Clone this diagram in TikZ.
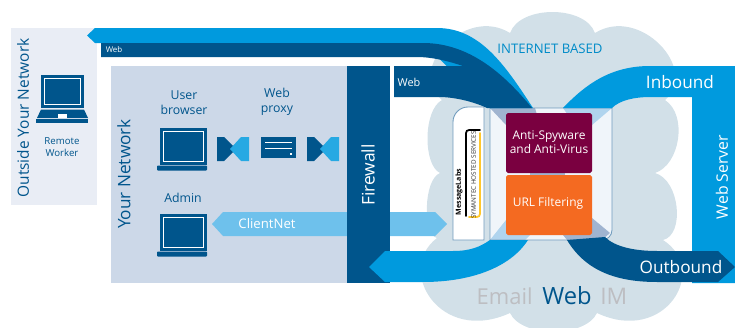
\documentclass[tikz,border=0pt]{standalone}
\usepackage{fontspec}
\setmainfont{Open Sans}
\usepackage{tikz}
\definecolor{netblue}{HTML}{00558C}
\definecolor{pipeblue}{HTML}{009ADE}
\definecolor{skyblue}{HTML}{6EC1EC}
\definecolor{cloudgray}{HTML}{D2E0E8}
\definecolor{outsidebg}{HTML}{E9EDF5}
\definecolor{insidebg}{HTML}{CCD8E8}
\definecolor{boxbg}{HTML}{F0F5FA}
\definecolor{boxline}{HTML}{6F9BBD}
\definecolor{funneldark}{HTML}{A0B4D0}
\definecolor{funnellight}{HTML}{B0D4EE}
\definecolor{spyware}{HTML}{7A0040}
\definecolor{urlorange}{HTML}{F46A21}
\definecolor{markgray}{HTML}{BDBEC2}
\definecolor{logoyellow}{HTML}{FFC72C}
\newcommand{\fsz}[1]{\fontsize{#1}{1.2\dimexpr#1pt\relax}\selectfont}
\newcommand{\notebook}[2]{
	\begin{scope}[shift={(#1,#2)}]
		\fill [netblue] (0,0) rectangle (47,37);
		\draw [white, line width=.6pt] (3.5,3.5) rectangle (43.5,33.5);
		\fill [netblue, rounded corners=.5] (-3,37.5) rectangle (47,42.5);
	\end{scope}
}
\newcommand{\gateicon}[2]{
	\begin{scope}[shift={(#1,#2)}]
		\fill [netblue] (0,0)--(7,0)--(19,12)--(7,24)--(0,24)--cycle;
		\fill [pipeblue!85!white] (32,0)--(24,0)--(13,12)--(24,24)--(32,24)--cycle;
	\end{scope}
}
\tikzset{
	netlabel/.style={text=netblue, align=center, font=\fsz{7}},
	whitetext/.style={text=white, align=center},
	inset/.style={anchor=center, inner sep=0pt}
}
\begin{document}
\begin{tikzpicture}[x=0.02cm, y=-0.02cm]
	\useasboundingbox (0,0) rectangle (735,328);
	\begin{scope}
		\clip (0,0) rectangle (735,328);
		\fill [cloudgray] (510,33) .. controls (520,5) and (585,5) .. (595,33)
			.. controls (640,5) and (700,70) .. (665,100)
			.. controls (688,115) and (680,165) .. (655,173)
			.. controls (680,180) and (685,235) .. (663,240)
			.. controls (710,270) and (665,345) .. (597,313)
			.. controls (585,338) and (522,338) .. (510,313)
			.. controls (440,345) and (395,270) .. (437,238)
			.. controls (423,235) and (423,180) .. (440,173)
			.. controls (423,165) and (423,110) .. (442,100)
			.. controls (405,70) and (465,5) .. (510,33) -- cycle;
	\end{scope}
	\fill [outsidebg] (11,28) rectangle (97,205);
	\fill [insidebg] (111,66) rectangle (348,283);
	\fill [skyblue] (212,224)--(223,212)--(435,212)--(447,224)--(435,236)--(223,236)--cycle;
	\fill [netblue] (347,66) rectangle (390,283);
	\fill [boxbg] (490,108)--(612,108)--(612,230) arc (0:90:10) --(490,240)--cycle;
	\fill [funneldark] (490,108)--(535,108)--(540,125)--(506,125)--cycle;
	\fill [funnellight] (563,108)--(612,108)--(592,125)--(575,125)--cycle;
	\fill [funnellight] (490,240)--(506,220)--(530,235)--(525,240)--cycle;
	\fill [funneldark] (563,235)--(592,218)--(610,233)--(602,240)--(567,240)--cycle;
	\fill [funneldark] (530,172) rectangle (565,176);
	\draw [boxline, line width=.5pt] (490,108)--(612,108)--(612,230) arc (0:90:10) --(490,240)--cycle;
	\draw [boxline, fill=white, line width=.5pt] (484,240)--(453,240)--(453,122) arc (180:270:15) --(484,107)--cycle;
	\fill [pipeblue] (87,35.5)--(95,28)--(437,28) .. controls (480,28) and (505,65) .. (533,108)--(490,108)--(423,43)--(95,43)--cycle;
	\fill [netblue] (101,43)--(423,43) .. controls (470,43) and (505,75) .. (532,108)--(487,108)
		.. controls (470,100) and (450,97) .. (440,97)--(394,97)--(394,66)--(463,66)
		.. controls (445,60) and (430,57) .. (417,57)--(101,57)--cycle;
	\fill [pipeblue] (563,108) .. controls (585,85) and (610,66) .. (650,66)--(735,66)--(735,283)--(692,283)--(692,97)--(650,97)
		.. controls (635,97) and (620,100) .. (612,108)--cycle;
	\fill [pipeblue] (369,267)--(385,251)--(453,251) .. controls (470,251) and (480,247) .. (490,240)--(528,240)
		.. controls (510,268) and (470,282) .. (423,282)--(385,282)--cycle;
	\fill [netblue] (605,237) .. controls (615,247) and (635,251) .. (657,251)--(718,251)--(735,267)--(718,282)--(657,282)
		.. controls (615,282) and (585,270) .. (567,240)--cycle;
	\fill [spyware, rounded corners=1] (506,113) rectangle (592,173);
	\fill [urlorange, rounded corners=1] (506,175) rectangle (592,235);
	% logo
	\draw [black, line width=1pt, line cap=round] (480,130)--(469,130) arc (270:180:3) --(466,216);
	\draw [logoyellow, line width=1pt, line cap=round] (480,133)--(480,214) arc (0:90:3) --(469,217);
	\node (logotop) [inset, rotate=90, font=\fsz{4}\bfseries, text=black] at (459,192) {MessageLabs};
	\node (logobot) [inset, rotate=90, font=\fsz{3.6}, text=black!80] at (473.5,175) {SYMANTEC HOSTED SERVICES};
	% remote laptop
	\fill [netblue] (41,75) rectangle (84,107.5);
	\draw [white, line width=.6pt] (44.5,78.5) rectangle (80.5,104.5);
	\fill [netblue] (41,109.5)--(84,109.5)--(88,118)--(37,118)--cycle;
	\fill [white] (57.5,114) rectangle (67,118);
	\fill [netblue] (36,119) rectangle (88,123);
	\notebook{160}{128}
	\notebook{160}{214}
	\gateicon{217}{137}
	\gateicon{307}{137}
	\fill [netblue] (261,137) rectangle (296,158);
	\foreach \i in {142,148}
		\draw [white, line width=.5pt] (265,\i)--(292,\i);
	\fill [white] (289.5,152.5) rectangle (291.5,154.5);
	\node (outside) [inset, rotate=90, text=netblue, font=\fsz{8.8}] at (23,118) {Outside Your Network};
	\node (remote) [netlabel, font=\fsz{5.5}] at (62,147) {Remote\\Worker};
	\node (yournet) [inset, rotate=90, text=netblue, font=\fsz{9.8}] at (124,174) {Your Network};
	\node (browser) [netlabel] at (184,103) {User\\browser};
	\node (proxy) [netlabel] at (277,102) {Web\\proxy};
	\node (admin) [netlabel] at (183,198) {Admin};
	\node (client) [whitetext, font=\fsz{7.5}] at (267,224) {ClientNet};
	\node (firewall) [inset, rotate=90, whitetext, font=\fsz{9.9}] at (368,175) {Firewall};
	\node (webtop) [whitetext, font=\fsz{4.5}] at (114,50) {Web};
	\node (webmid) [whitetext, font=\fsz{6.2}] at (409,82) {Web};
	\node (internet) [text=pipeblue!90!black, font=\fsz{7.5}] at (550,49) {INTERNET BASED};
	\node (spy) [whitetext, font=\fsz{6.8}] at (549,142) {Anti-Spyware\\and Anti-Virus};
	\node (url) [whitetext, font=\fsz{6.8}] at (548,203) {URL Filtering};
	\node (inbound) [whitetext, font=\fsz{9.8}] at (680,82) {Inbound};
	\node (server) [inset, rotate=90, whitetext, font=\fsz{9}] at (722,177) {Web Server};
	\node (outbound) [whitetext, font=\fsz{9.8}] at (681,267) {Outbound};
	\node (email) [inset, anchor=east, text=markgray, font=\fsz{12.5}] at (533,296) {Email};
	\node (web) [inset, anchor=west, text=netblue, font=\fsz{13.5}] at (542,296) {Web};
	\node (im) [inset, anchor=west, text=markgray, font=\fsz{13}] at (600,296) {IM};
\end{tikzpicture}
\end{document}
